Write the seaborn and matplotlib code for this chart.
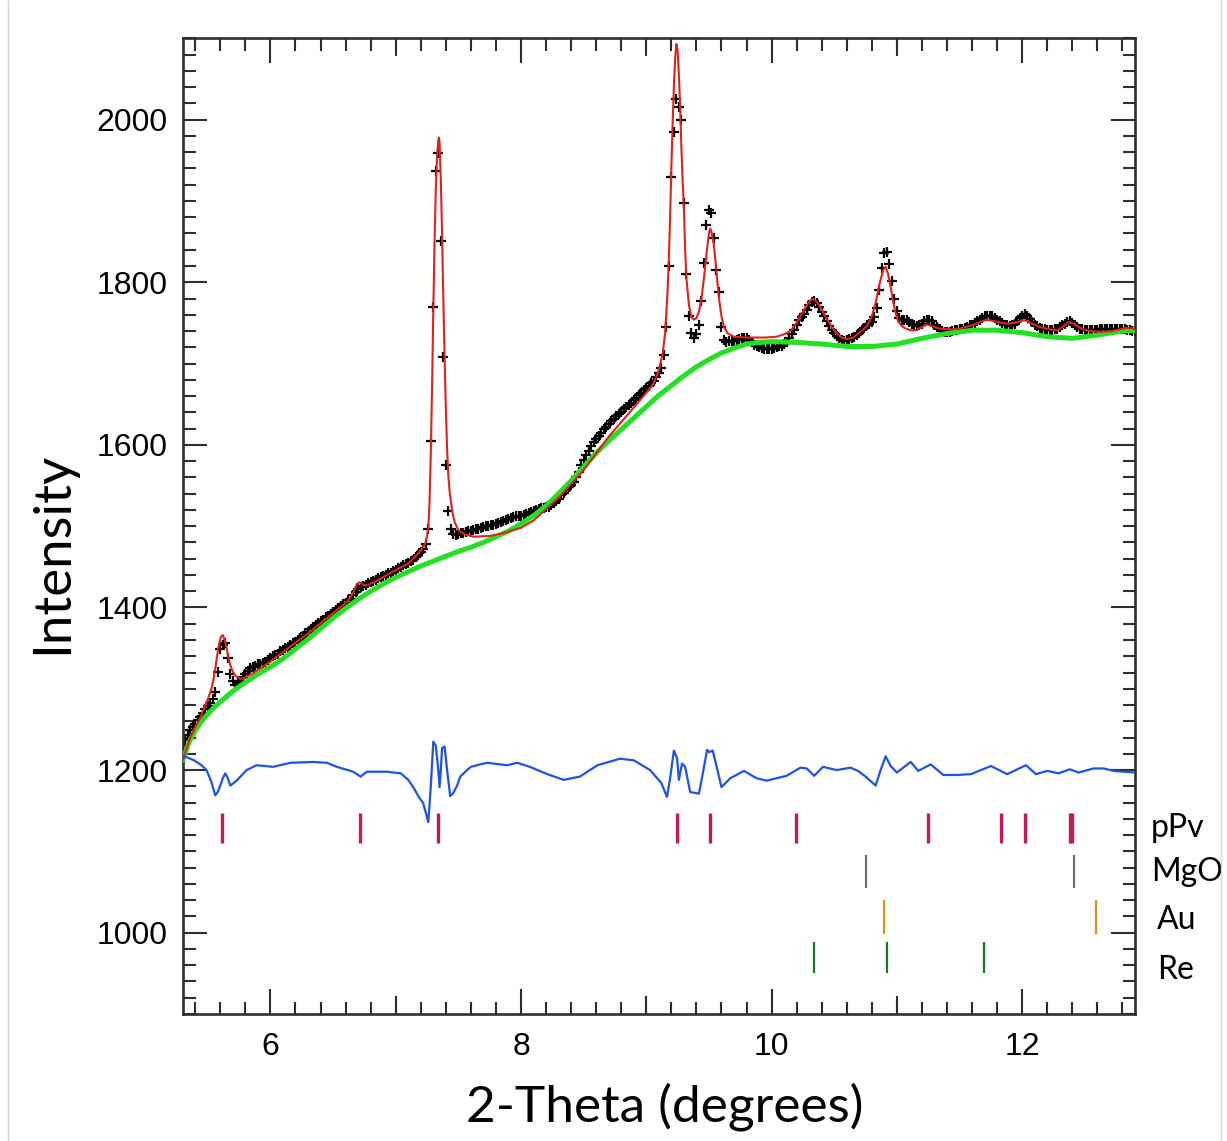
import numpy as np
import pandas as pd
import matplotlib
matplotlib.use("Agg")
import matplotlib.pyplot as plt
import matplotlib.transforms as mtransforms
from matplotlib.ticker import MultipleLocator
from matplotlib.lines import Line2D
import seaborn as sns

# ---------------------------------------------------------------- data
# observed intensities, one value every 0.02 deg starting at 5.30 deg
obs_start, obs_step = 5.30, 0.02
obs_intensity = [
    1231, 1237, 1243, 1249, 1253, 1257, 1262, 1265, 1270, 1275,
    1279, 1282, 1287, 1296, 1321, 1349, 1354, 1356, 1338, 1318,
    1309, 1305, 1307, 1310, 1314, 1318, 1322, 1325, 1327, 1328,
    1330, 1331, 1332, 1333, 1335, 1338, 1340, 1341, 1343, 1346,
    1348, 1350, 1352, 1354, 1356, 1358, 1360, 1362, 1365, 1368,
    1370, 1373, 1376, 1378, 1381, 1383, 1385, 1388, 1390, 1392,
    1395, 1397, 1399, 1402, 1404, 1406, 1409, 1411, 1415, 1419,
    1423, 1425, 1426, 1428, 1430, 1431, 1433, 1434, 1436, 1437,
    1439, 1440, 1442, 1443, 1445, 1446, 1448, 1450, 1452, 1453,
    1455, 1457, 1459, 1462, 1465, 1468, 1472, 1478, 1497, 1605,
    1769, 1937, 1959, 1851, 1708, 1575, 1519, 1497, 1490, 1489,
    1490, 1491, 1492, 1493, 1494, 1494, 1495, 1496, 1497, 1498,
    1499, 1500, 1500, 1501, 1502, 1503, 1504, 1505, 1506, 1508,
    1509, 1510, 1511, 1512, 1513, 1513, 1514, 1515, 1516, 1518,
    1519, 1520, 1521, 1522, 1522, 1523, 1524, 1526, 1528, 1531,
    1534, 1538, 1541, 1545, 1548, 1551, 1554, 1560, 1567, 1575,
    1582, 1588, 1593, 1598, 1603, 1607, 1611, 1615, 1619, 1622,
    1626, 1629, 1632, 1635, 1638, 1641, 1644, 1646, 1649, 1652,
    1655, 1658, 1661, 1664, 1667, 1670, 1673, 1676, 1679, 1683,
    1688, 1695, 1710, 1745, 1820, 1930, 1985, 2025, 2015, 2000,
    1897, 1810, 1758, 1737, 1732, 1736, 1747, 1777, 1824, 1871,
    1889, 1885, 1855, 1815, 1788, 1745, 1729, 1727, 1728, 1728,
    1728, 1729, 1730, 1731, 1732, 1731, 1729, 1726, 1723, 1721,
    1720, 1719, 1718, 1718, 1718, 1718, 1719, 1720, 1721, 1722,
    1724, 1727, 1731, 1736, 1741, 1747, 1753, 1757, 1761, 1766,
    1772, 1776, 1777, 1774, 1769, 1764, 1758, 1752, 1746, 1741,
    1737, 1734, 1731, 1729, 1728, 1729, 1730, 1731, 1733, 1735,
    1738, 1741, 1744, 1747, 1749, 1751, 1757, 1768, 1790, 1818,
    1836, 1837, 1823, 1802, 1780, 1765, 1756, 1753, 1753, 1753,
    1751, 1749, 1747, 1746, 1747, 1749, 1752, 1754, 1754, 1752,
    1748, 1745, 1742, 1740, 1739, 1739, 1739, 1740, 1741, 1741,
    1742, 1743, 1744, 1745, 1747, 1748, 1750, 1752, 1754, 1756,
    1758, 1759, 1759, 1758, 1756, 1754, 1752, 1750, 1748, 1747,
    1746, 1747, 1749, 1752, 1756, 1759, 1761, 1759, 1755, 1751,
    1748, 1746, 1744, 1743, 1742, 1741, 1741, 1741, 1742, 1743,
    1745, 1747, 1749, 1751, 1752, 1750, 1747, 1745, 1743, 1742,
    1741, 1741, 1741, 1741, 1741, 1741, 1742, 1742, 1742, 1742,
    1743, 1743, 1743, 1742, 1742, 1742, 1742, 1741, 1741, 1740,
    1740,
]

# calculated profile
calc_theta = [
    5.30, 5.36, 5.40, 5.44, 5.48, 5.50, 5.53, 5.545, 5.565, 5.585,
    5.605, 5.62, 5.635, 5.65, 5.665, 5.68, 5.70, 5.72, 5.75, 5.77,
    5.80, 5.86, 5.95, 6.10, 6.30, 6.50, 6.62, 6.66, 6.69, 6.71,
    6.74, 6.77, 6.85, 7.00, 7.10, 7.14, 7.20, 7.24, 7.26, 7.27,
    7.28, 7.29, 7.30, 7.31, 7.32, 7.33, 7.34, 7.345, 7.35, 7.36,
    7.37, 7.38, 7.39, 7.40, 7.41, 7.42, 7.43, 7.45, 7.47, 7.50,
    7.55, 7.62, 7.75, 7.85, 8.00, 8.10, 8.30, 8.50, 8.70, 8.90,
    9.00, 9.06, 9.10, 9.13, 9.15, 9.17, 9.18, 9.19, 9.20, 9.21,
    9.22, 9.23, 9.24, 9.25, 9.26, 9.27, 9.28, 9.29, 9.30, 9.31,
    9.32, 9.34, 9.36, 9.38, 9.40, 9.42, 9.44, 9.46, 9.48, 9.50,
    9.51, 9.52, 9.54, 9.56, 9.58, 9.60, 9.62, 9.65, 9.70, 9.80,
    9.95, 10.04, 10.10, 10.15, 10.20, 10.25, 10.30, 10.33, 10.36, 10.40,
    10.44, 10.48, 10.52, 10.56, 10.60, 10.65, 10.71, 10.76, 10.80, 10.83,
    10.86, 10.89, 10.91, 10.93, 10.95, 10.97, 10.99, 11.01, 11.04, 11.07,
    11.11, 11.15, 11.20, 11.24, 11.28, 11.34, 11.42, 11.50, 11.60, 11.68,
    11.72, 11.78, 11.84, 11.88, 11.94, 12.00, 12.03, 12.08, 12.14, 12.22,
    12.28, 12.33, 12.37, 12.41, 12.47, 12.54, 12.62, 12.72, 12.83, 12.90,
]
calc_intensity = [
    1212, 1240, 1253, 1264, 1280, 1287, 1300, 1311, 1330, 1351,
    1364, 1366, 1360, 1350, 1338, 1329, 1321, 1316, 1313, 1312,
    1314, 1319, 1328, 1345, 1368, 1393, 1408, 1418, 1429, 1431,
    1428, 1427, 1433, 1446, 1454, 1460, 1470, 1480, 1497, 1530,
    1590, 1670, 1765, 1850, 1915, 1955, 1975, 1978, 1972, 1925,
    1860, 1780, 1708, 1645, 1595, 1562, 1543, 1519, 1505, 1495,
    1490, 1487, 1488, 1491, 1498, 1507, 1535, 1569, 1610, 1646,
    1664, 1676, 1692, 1712, 1737, 1790, 1830, 1880, 1941, 1995,
    2040, 2075, 2093, 2085, 2055, 2015, 1965, 1925, 1890, 1840,
    1805, 1772, 1757, 1754, 1756, 1764, 1780, 1805, 1835, 1860,
    1866, 1862, 1845, 1812, 1780, 1758, 1745, 1737, 1733, 1732,
    1732, 1733, 1736, 1740, 1750, 1764, 1776, 1780, 1776, 1766,
    1755, 1745, 1737, 1732, 1730, 1732, 1739, 1746, 1758, 1774,
    1797, 1815, 1819, 1810, 1794, 1776, 1762, 1752, 1746, 1743,
    1741, 1741, 1745, 1748, 1746, 1743, 1742, 1743, 1747, 1752,
    1754, 1752, 1750, 1749, 1750, 1753, 1753, 1749, 1745, 1742,
    1741, 1746, 1751, 1749, 1743, 1740, 1739, 1740, 1744, 1743,
]

# refined background
bkg_theta = [
    5.30, 5.35, 5.40, 5.45, 5.50, 5.55, 5.60, 5.70, 5.80, 5.90,
    6.00, 6.10, 6.20, 6.30, 6.40, 6.50, 6.60, 6.70, 6.80, 6.90,
    7.00, 7.10, 7.20, 7.30, 7.40, 7.50, 7.60, 7.70, 7.80, 7.90,
    8.00, 8.10, 8.20, 8.30, 8.40, 8.50, 8.60, 8.70, 8.80, 8.90,
    9.00, 9.10, 9.20, 9.30, 9.40, 9.50, 9.60, 9.70, 9.80, 9.90,
    10.00, 10.20, 10.40, 10.60, 10.80, 11.00, 11.20, 11.40, 11.60, 11.80,
    12.00, 12.20, 12.40, 12.60, 12.80, 12.90,
]
bkg_intensity = [
    1212, 1234, 1249, 1260, 1269, 1277, 1284, 1297, 1308, 1318,
    1327, 1337, 1349, 1361, 1374, 1387, 1399, 1410, 1420, 1429,
    1437, 1444, 1451, 1457, 1463, 1469, 1474, 1480, 1487, 1494,
    1503, 1513, 1525, 1540, 1556, 1573, 1590, 1605, 1619, 1633,
    1647, 1661, 1673, 1685, 1696, 1705, 1713, 1719, 1724, 1726,
    1727, 1726, 1724, 1721, 1721, 1724, 1731, 1737, 1741, 1741,
    1738, 1733, 1731, 1735, 1740, 1741,
]

# difference curve (observed - calculated, offset to 1200)
diff_theta = [
    5.30, 5.39, 5.45, 5.49, 5.53, 5.56, 5.58, 5.60, 5.62, 5.64,
    5.66, 5.68, 5.73, 5.81, 5.89, 6.02, 6.16, 6.34, 6.45, 6.53,
    6.66, 6.72, 6.77, 6.93, 7.04, 7.10, 7.14, 7.18, 7.22, 7.26,
    7.28, 7.30, 7.32, 7.34, 7.35, 7.36, 7.37, 7.39, 7.41, 7.435,
    7.46, 7.49, 7.515, 7.57, 7.60, 7.675, 7.73, 7.89, 7.97, 8.07,
    8.21, 8.34, 8.47, 8.61, 8.79, 8.90, 9.03, 9.12, 9.165, 9.19,
    9.22, 9.245, 9.26, 9.285, 9.31, 9.35, 9.42, 9.45, 9.485, 9.50,
    9.53, 9.56, 9.60, 9.67, 9.78, 9.88, 9.96, 10.12, 10.23, 10.28,
    10.34, 10.41, 10.52, 10.63, 10.69, 10.75, 10.83, 10.87, 10.91, 10.95,
    11.00, 11.11, 11.17, 11.27, 11.37, 11.48, 11.59, 11.75, 11.88, 12.03,
    12.11, 12.20, 12.29, 12.38, 12.45, 12.57, 12.65, 12.73, 12.90,
]
diff_intensity = [
    1218, 1212, 1206, 1200, 1185, 1169, 1173, 1181, 1190, 1196,
    1190, 1181, 1187, 1200, 1206, 1204, 1209, 1210, 1209, 1204,
    1198, 1192, 1198, 1198, 1196, 1188, 1179, 1168, 1159, 1136,
    1180, 1235, 1230, 1200, 1179, 1200, 1227, 1229, 1200, 1168,
    1172, 1181, 1192, 1200, 1204, 1207, 1209, 1206, 1209, 1204,
    1195, 1188, 1192, 1206, 1214, 1212, 1200, 1184, 1167, 1190,
    1224, 1215, 1188, 1208, 1204, 1173, 1171, 1195, 1225, 1222,
    1224, 1205, 1179, 1190, 1199, 1190, 1187, 1193, 1203, 1202,
    1193, 1204, 1200, 1203, 1199, 1192, 1181, 1200, 1217, 1205,
    1197, 1210, 1199, 1207, 1194, 1194, 1195, 1205, 1195, 1206,
    1195, 1199, 1196, 1201, 1197, 1202, 1202, 1199, 1197,
]

# reflection positions of each phase
phase_names = ["pPv", "MgO", "Au", "Re"]
pPv_peaks = [5.615, 6.712, 7.337, 9.247, 9.511, 10.196, 11.245, 11.830,
             12.020, 12.378, 12.396]
MgO_peaks = [10.753, 12.416]
Au_peaks = [10.899, 12.592]
Re_peaks = [10.340, 10.919, 11.693]

# ---------------------------------------------------------------- styling
row_style = {
    # name: (bottom, top, colour, width, label y, label x in axes coords)
    "pPv": (1110, 1147, "#c8175a", 2.4, 1129, 1.017),
    "MgO": (1055, 1095, "#6e6e6e", 1.6, 1075, 1.017),
    "Au": (999, 1040, "#d4961f", 1.6, 1016, 1.023),
    "Re": (950, 988, "#167a1e", 1.6, 954, 1.023),
}
label_family = ["Lato", "DejaVu Sans"]
spine_color = "#2e2e2e"

sns.set_theme(style="white")
plt.rcParams["font.family"] = ["Liberation Sans", "DejaVu Sans"]
plt.rcParams["text.color"] = "black"
plt.rcParams["axes.labelcolor"] = "black"
plt.rcParams["xtick.labelcolor"] = "black"
plt.rcParams["ytick.labelcolor"] = "black"

fig = plt.figure(figsize=(12.27, 11.41), dpi=100)
ax = fig.add_axes([0.1489, 0.1113, 0.7761, 0.8551])

obs_theta = np.round(obs_start + obs_step * np.arange(len(obs_intensity)), 2)
obs_df = pd.DataFrame({"two_theta": obs_theta, "intensity": obs_intensity})

sns.scatterplot(data=obs_df, x="two_theta", y="intensity", marker="+",
                s=55, color="black", linewidth=1.6, ax=ax, zorder=2,
                legend=False)
sns.lineplot(x=bkg_theta, y=bkg_intensity, color="#22e022", linewidth=3.6,
             sort=False, estimator=None, ax=ax, zorder=3)
sns.lineplot(x=calc_theta, y=calc_intensity, color="#e2211c", linewidth=1.5,
             sort=False, estimator=None, ax=ax, zorder=4)
sns.lineplot(x=diff_theta, y=diff_intensity, color="#1f52e6", linewidth=1.6,
             sort=False, estimator=None, ax=ax, zorder=4)

phase_peaks = {"pPv": pPv_peaks, "MgO": MgO_peaks, "Au": Au_peaks, "Re": Re_peaks}
label_tf = mtransforms.blended_transform_factory(ax.transAxes, ax.transData)
for name in phase_names:
    lo, hi, col, lw, ly, lx = row_style[name]
    ax.vlines(phase_peaks[name], lo, hi, colors=col, linewidth=lw, zorder=3)
    ax.text(lx, ly, name, transform=label_tf, ha="left", va="center",
            fontsize=23, family=label_family, color="black", clip_on=False)

ax.set_xlim(5.30, 12.90)
ax.set_ylim(900, 2100)

# frame and ticks
for sp in ax.spines.values():
    sp.set_visible(True)
    sp.set_color(spine_color)
    sp.set_linewidth(1.9)

ax.xaxis.set_major_locator(MultipleLocator(2))
ax.xaxis.set_minor_locator(MultipleLocator(0.2))
ax.yaxis.set_major_locator(MultipleLocator(200))
ax.yaxis.set_minor_locator(MultipleLocator(20))
ax.tick_params(axis="both", which="both", direction="in", bottom=True,
               top=True, left=True, right=True, color=spine_color, width=1.5)
ax.tick_params(axis="x", which="major", length=18, pad=13, labelsize=23,
               labelcolor="black")
ax.tick_params(axis="y", which="major", length=17, pad=11, labelsize=23,
               labelcolor="black")
ax.tick_params(axis="both", which="minor", length=9)

# intermediate ticks at the odd degrees, bottom and top
for side in ("bottom", "top"):
    sec = ax.secondary_xaxis(side)
    sec.set_xticks([7, 9, 11])
    sec.tick_params(direction="in", length=13, width=1.5, color=spine_color,
                    bottom=(side == "bottom"), top=(side == "top"),
                    labelbottom=False, labeltop=False)
    for sp in sec.spines.values():
        sp.set_visible(False)

ax.set_xlabel("2-Theta (degrees)", fontsize=37, family=label_family,
              va="center", ha="center", color="black")
ax.xaxis.set_label_coords(0.5065, -0.095)
ax.set_ylabel("Intensity", fontsize=38, family=label_family,
              va="center", ha="center", color="black")
ax.yaxis.set_label_coords(-0.137, 0.4725)

# thin page borders
for xf in (8 / 1227, 1221 / 1227):
    fig.add_artist(Line2D([xf, xf], [0, 1], transform=fig.transFigure,
                          color="#d6d6d6", linewidth=1.0))

fig.savefig("out.png", dpi=100, facecolor="white")
